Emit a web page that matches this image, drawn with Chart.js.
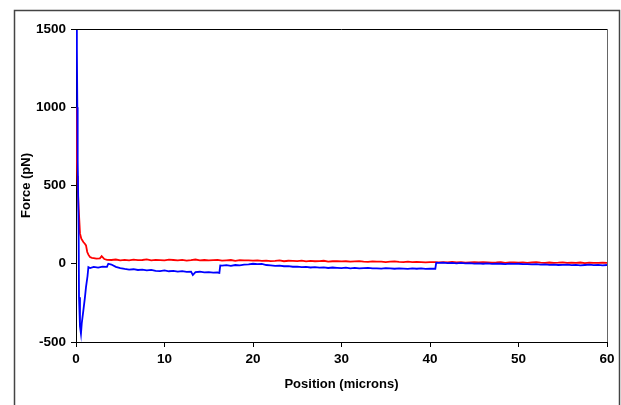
<!DOCTYPE html>
<html>
<head>
<meta charset="utf-8">
<script src="https://cdn.jsdelivr.net/npm/chart.js@4"></script>
<style>
  html, body { margin: 0; padding: 0; background: #fff; }
  #wrap { width: 621px; height: 405px; position: relative; }
</style>
</head>
<body>
<div id="wrap"><canvas id="force-chart" width="621" height="405"></canvas></div>
<script>
// Axis ticks
const xTicks = [0, 10, 20, 30, 40, 50, 60];
const yTicks = [-500, 0, 500, 1000, 1500];

// Red trace (position in microns, force in pN)
const redX = [0.02, 0.05, 0.1, 0.15, 0.2, 0.3, 0.45, 0.6, 0.83, 1.0, 1.13, 1.27, 1.4, 1.58, 1.8, 2.0, 2.3, 2.7, 2.9, 3.2, 3.5,
    4.0, 4.5, 5.0, 5.5, 6.0, 6.5, 7.0, 7.5, 8.0, 8.5, 9.0, 9.5, 10.0, 10.5, 11.0, 11.5, 12.0, 12.5, 13.0, 13.5,
    14.0, 14.5, 15.0, 15.5, 16.0, 16.5, 17.0, 17.5, 18.0, 18.5, 19.0, 19.5, 20.0,
    20.5, 21.0, 21.5, 22.0, 22.5, 23.0, 23.5, 24.0, 24.5, 25.0, 25.5, 26.0, 26.5, 27.0, 27.5, 28.0, 28.5, 29.0, 29.5, 30.0,
    30.5, 31.0, 31.5, 32.0, 32.5, 33.0, 33.5, 34.0, 34.5, 35.0, 35.5, 36.0, 36.5, 37.0, 37.5, 38.0, 38.5, 39.0, 39.5, 40.0,
    40.5, 41.0, 41.5, 42.0, 42.5, 43.0, 43.5, 44.0, 44.5, 45.0, 45.5, 46.0, 46.5, 47.0, 47.5, 48.0, 48.5, 49.0, 49.5, 50.0,
    50.5, 51.0, 51.5, 52.0, 52.5, 53.0, 53.5, 54.0, 54.5, 55.0, 55.5, 56.0, 56.5, 57.0, 57.5, 58.0, 58.5, 59.0, 59.5, 60.0];
const redForce = [1000, 830, 700, 560, 480, 354, 194, 160, 139, 128, 117, 75, 58, 43, 38, 36, 33, 35, 49, 30, 25,
    24, 27, 22, 25, 21, 26, 23, 24, 28, 22, 25, 23, 21, 26, 24, 22, 25, 20, 23, 27,
    22, 24, 21, 23, 25, 20, 22, 24, 19, 23, 21, 22, 20,
    21, 18, 20, 17, 19, 22, 16, 19, 18, 17, 20, 15, 18, 16, 17, 19, 14, 16, 17, 15,
    16, 13, 15, 17, 14, 12, 15, 13, 14, 11, 13, 15, 12, 11, 13, 10, 12, 11, 9, 10,
    11, 9, 10, 8, 12, 9, 10, 7, 9, 11, 8, 10, 9, 7, 8, 10, 6, 9, 8, 7,
    9, 6, 8, 10, 7, 5, 8, 6, 7, 9, 5, 7, 6, 8, 4, 7, 6, 5, 7, 6];

// Blue trace
const blueX = [0.0, 0.1, 0.15, 0.19, 0.3, 0.34, 0.45, 0.56, 0.65, 0.83, 1.0, 1.13, 1.3, 1.4, 1.6, 2.0, 2.5, 3.0, 3.5, 3.65,
    4.0, 4.5, 5.0, 5.5, 6.0, 6.5, 7.0, 7.5, 8.0, 8.5, 9.0, 9.5, 10.0, 10.5, 11.0, 11.5, 12.0, 12.5, 13.0, 13.2, 13.5,
    14.0, 14.5, 15.0, 15.5, 16.0, 16.2, 16.3, 16.5, 17.0, 17.5, 18.0, 18.5, 19.0, 19.5, 20.0,
    20.5, 21.0, 21.5, 22.0, 22.5, 23.0, 23.5, 24.0, 24.5, 25.0, 25.5, 26.0, 26.5, 27.0, 27.5, 28.0, 28.5, 29.0, 29.5, 30.0,
    30.5, 31.0, 31.5, 32.0, 32.5, 33.0, 33.5, 34.0, 34.5, 35.0, 35.5, 36.0, 36.5, 37.0, 37.5, 38.0, 38.5, 39.0, 39.5, 40.0,
    40.6, 40.7, 41.0, 41.5, 42.0, 42.5, 43.0, 43.5, 44.0, 44.5, 45.0, 45.5, 46.0, 46.5, 47.0, 47.5, 48.0, 48.5, 49.0, 49.5, 50.0,
    50.5, 51.0, 51.5, 52.0, 52.5, 53.0, 53.5, 54.0, 54.5, 55.0, 55.5, 56.0, 56.5, 57.0, 57.5, 58.0, 58.5, 59.0, 59.5, 60.0];
const blueForce = [1500, 1380, 1000, 660, 213, -214, -400, -447, -380, -300, -220, -150, -80, -22, -28, -20, -25, -18, -20, 0,
    -5, -20, -28, -33, -37, -35, -40, -38, -42, -39, -45, -47, -43, -48, -46, -50, -47, -52, -50, -72, -53,
    -51, -55, -54, -57, -56, -58, -11, -12, -9, -13, -8, -10, -6, -4, 0,
    -3, -1, -8, -10, -13, -12, -16, -15, -19, -18, -22, -20, -24, -22, -25, -23, -27, -24, -26, -28,
    -25, -29, -27, -30, -28, -26, -30, -29, -31, -28, -30, -32, -29, -31, -33, -30, -32, -29, -33, -31,
    -32, 6, 5, 7, 4, 6, 3, 5, 2, 4, 1, 3, 0, 2, -1, 1, 0, -2, 1, -1, 0,
    -3, -2, -4, -3, -6, -4, -7, -5, -8, -7, -6, -9, -7, -10, -8, -6, -9, -7, -10, -8];

const toPoints = (xs, ys) => xs.map((x, i) => ({ x: x, y: ys[i] }));

// Outer frame and plot-area box like the spreadsheet chart
const framePlugin = {
    id: 'frame',
    beforeDraw(chart) {
        const ctx = chart.ctx;
        ctx.save();
        ctx.fillStyle = '#fff';
        ctx.fillRect(0, 0, chart.width, chart.height);
        ctx.strokeStyle = '#444';
        ctx.lineWidth = 1.5;
        ctx.strokeRect(14.5, 10.5, 605, 420);
        ctx.restore();
    },
    afterDatasetsDraw(chart) {
        const a = chart.chartArea;
        const ctx = chart.ctx;
        ctx.save();
        ctx.lineWidth = 1;
        ctx.strokeStyle = '#000';
        ctx.beginPath();
        ctx.moveTo(a.left, Math.round(a.top) + 0.5);
        ctx.lineTo(a.right, Math.round(a.top) + 0.5);
        ctx.stroke();
        ctx.strokeStyle = '#666';
        ctx.beginPath();
        ctx.moveTo(Math.round(a.right) + 0.5, a.top);
        ctx.lineTo(Math.round(a.right) + 0.5, a.bottom);
        ctx.stroke();
        ctx.restore();
    }
};

const tickFont = { family: '"Liberation Sans", Arial, sans-serif', size: 13.5, weight: 'bold' };
const titleFont = { family: '"Liberation Sans", Arial, sans-serif', size: 13, weight: 'bold' };

new Chart(document.getElementById('force-chart').getContext('2d'), {
    type: 'line',
    data: {
        datasets: [
            {
                label: 'blue',
                data: toPoints(blueX, blueForce),
                borderColor: '#0000FF',
                borderWidth: 1.8,
                pointRadius: 0,
                tension: 0,
                order: 1
            },
            {
                label: 'red',
                data: toPoints(redX, redForce),
                borderColor: '#FF0000',
                borderWidth: 1.8,
                pointRadius: 0,
                tension: 0,
                order: 2
            }
        ]
    },
    options: {
        responsive: false,
        animation: false,
        layout: { padding: { left: 0, right: 14, top: 29, bottom: 0 } },
        plugins: {
            legend: { display: false },
            tooltip: { enabled: false }
        },
        scales: {
            x: {
                type: 'linear',
                min: 0,
                max: 60,
                afterBuildTicks: (scale) => { scale.ticks = xTicks.map(v => ({ value: v })); },
                afterFit: (scale) => { scale.height = 63; },
                ticks: { color: '#000', font: tickFont, padding: 4, maxRotation: 0, callback: (v) => String(v) },
                grid: { drawOnChartArea: false, drawTicks: true, tickLength: 5, color: '#000' },
                border: { color: '#000', width: 1 },
                title: { display: true, text: 'Position (microns)', color: '#000', font: titleFont, padding: { top: 0, bottom: 13 } }
            },
            y: {
                type: 'linear',
                min: -500,
                max: 1500,
                afterBuildTicks: (scale) => { scale.ticks = yTicks.map(v => ({ value: v })); },
                afterFit: (scale) => { scale.width = 76; },
                ticks: { color: '#000', font: tickFont, padding: 5, callback: (v) => String(v) },
                grid: { drawOnChartArea: false, drawTicks: true, tickLength: 5, color: '#000' },
                border: { color: '#000', width: 1 },
                title: { display: true, text: 'Force (pN)', color: '#000', font: titleFont, padding: { top: 19, bottom: 0 } }
            }
        }
    },
    plugins: [framePlugin]
});
</script>
</body>
</html>
